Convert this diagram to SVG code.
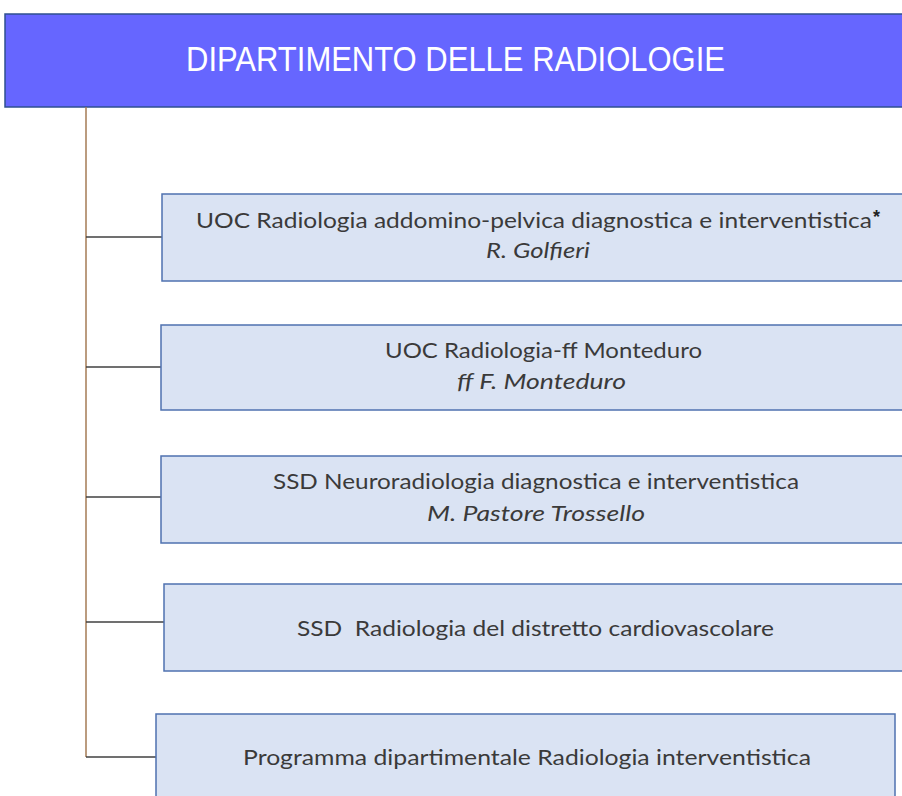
<svg xmlns="http://www.w3.org/2000/svg" width="902" height="796" viewBox="0 0 902 796">
<style>
.box{fill:#DAE3F3;stroke:#4F72B0;stroke-width:1.5}
.t{font-family:Lato,"Liberation Sans",sans-serif;font-size:22px;fill:#3A3A3A}
.i{font-style:italic}
.conn{stroke:#404040;stroke-width:1.5;fill:none}
.trunk{stroke:#A47B55;stroke-width:1.5;fill:none}
</style>
<rect width="902" height="796" fill="#FFFFFF"/>
<g id="header">
<rect x="5" y="14" width="910" height="93" fill="#6666FF" stroke="#2F5090" stroke-width="1.5"/>
<text x="186" y="71" font-family="'Liberation Sans',sans-serif" font-size="35" fill="#FFFFFF" textLength="539" lengthAdjust="spacingAndGlyphs">DIPARTIMENTO DELLE RADIOLOGIE</text>
</g>
<g id="connectors">
<line class="trunk" x1="86" y1="107" x2="86" y2="757"/>
<line class="conn" x1="86" y1="237" x2="162" y2="237"/>
<line class="conn" x1="86" y1="367" x2="161" y2="367"/>
<line class="conn" x1="86" y1="497" x2="161" y2="497"/>
<line class="conn" x1="86" y1="622" x2="164" y2="622"/>
<line class="conn" x1="86" y1="757" x2="156" y2="757"/>
</g>
<g id="n1">
<rect class="box" x="162" y="194" width="760" height="87"/>
<text class="t" x="196" y="228" textLength="676" lengthAdjust="spacingAndGlyphs">UOC Radiologia addomino-pelvica diagnostica e interventistica</text>
<text x="873" y="223" font-family="'Liberation Sans',sans-serif" font-size="18" font-weight="bold" fill="#222">*</text>
<text class="t i" x="486" y="258" textLength="104" lengthAdjust="spacingAndGlyphs">R. Golfieri</text>
</g>
<g id="n2">
<rect class="box" x="161" y="325" width="760" height="85"/>
<text class="t" x="385" y="358" textLength="317" lengthAdjust="spacingAndGlyphs">UOC Radiologia-ff Monteduro</text>
<text class="t i" x="457" y="389" textLength="169" lengthAdjust="spacingAndGlyphs">ff F. Monteduro</text>
</g>
<g id="n3">
<rect class="box" x="161" y="456" width="760" height="87"/>
<text class="t" x="273" y="489" textLength="526" lengthAdjust="spacingAndGlyphs">SSD Neuroradiologia diagnostica e interventistica</text>
<text class="t i" x="427" y="521" textLength="218" lengthAdjust="spacingAndGlyphs">M. Pastore Trossello</text>
</g>
<g id="n4">
<rect class="box" x="164" y="584" width="760" height="87"/>
<text class="t" x="297" y="636" textLength="477" lengthAdjust="spacingAndGlyphs" xml:space="preserve">SSD  Radiologia del distretto cardiovascolare</text>
</g>
<g id="n5">
<rect class="box" x="156" y="714" width="739" height="100"/>
<text class="t" x="243" y="765" textLength="568" lengthAdjust="spacingAndGlyphs">Programma dipartimentale Radiologia interventistica</text>
</g>
</svg>
